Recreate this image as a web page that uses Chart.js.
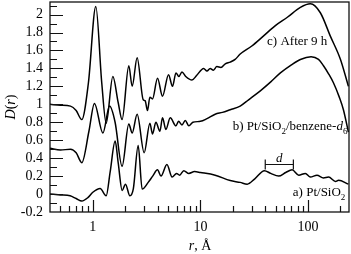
<!DOCTYPE html>
<html>
<head>
<meta charset="utf-8">
<script src="https://cdn.jsdelivr.net/npm/chart.js@4.4.1/dist/chart.umd.min.js"></script>
<style>
  html, body { margin:0; padding:0; background:#fff; }
</style>
</head>
<body>
<canvas id="chart1" width="351" height="254"></canvas>
<script>
// r (Angstrom) and D(r), one pair of arrays per curve
// c) After 9 h
var rC = [0.40,0.50,0.62,0.70,0.79,0.91,1.066,1.21,1.33,1.535,1.72,1.87,2.16,2.32,2.58,2.94,3.06,3.22,3.39,3.585,3.99,4.44,5.05,5.50,5.92,6.3,6.73,7.3,8.34,9.2,10.7,11.5,12.3,13.2,14.2,15.5,17,18.9,21,23.4,30,38.4,50,64.2,84.8,105,130,161,200,237]
var dC = [1.00,0.99,0.98,0.93,0.83,1.24,2.09,1.24,0.79,1.31,1.02,0.83,1.43,1.20,1.52,1.05,1.04,0.93,1.08,1.06,1.29,1.09,1.33,1.20,1.35,1.31,1.36,1.31,1.27,1.32,1.40,1.37,1.40,1.38,1.42,1.41,1.45,1.47,1.50,1.56,1.65,1.76,1.88,1.97,2.08,2.12,2.02,1.76,1.50,1.20]

// b) Pt/SiO2/benzene-d6
var rB = [0.40,0.50,0.62,0.70,0.79,0.92,1.035,1.24,1.43,1.61,1.87,2.16,2.32,2.58,3.0,3.39,3.585,3.855,4.2,4.44,4.77,5.24,5.92,6.26,6.73,7.22,7.8,8.5,10,11.5,13.7,16,18.9,23.4,28,36,45,55.3,70,84.8,106.6,125,139,155,172,195,213,237]
var dB = [0.51,0.49,0.50,0.46,0.35,0.70,1.01,0.68,0.98,0.80,0.31,0.78,0.68,0.89,0.46,0.79,0.67,0.80,0.70,0.85,0.72,0.85,0.76,0.81,0.77,0.82,0.76,0.80,0.81,0.84,0.89,0.91,0.94,0.98,1.05,1.15,1.25,1.35,1.44,1.50,1.53,1.50,1.43,1.34,1.24,1.08,0.94,0.69]

// a) Pt/SiO2
var rA = [0.40,0.50,0.615,0.70,0.79,0.90,1.0,1.169,1.33,1.45,1.612,1.72,1.874,2.01,2.21,2.38,2.639,2.874,3.269,3.6,3.99,4.3,4.88,5.45,6.0,6.4,7.0,7.8,8.8,10,13.7,18.9,23.4,27.2,32,39.3,45,53.3,62,71,81.9,94.4,105,121,139,155,180,192,237]
var dA = [0.00,-0.01,-0.02,-0.05,-0.078,-0.04,0.02,0.063,-0.02,0.25,0.59,0.35,0.04,0.11,-0.02,0.06,0.54,0.055,0.13,0.20,0.27,0.20,0.33,0.19,0.23,0.21,0.26,0.23,0.25,0.24,0.21,0.15,0.13,0.11,0.17,0.26,0.23,0.20,0.24,0.27,0.21,0.23,0.19,0.21,0.18,0.19,0.14,0.155,0.11]

// axes
var xMin = 0.4, xMax = 240
var yMin = -0.2, yMax = 2.14
var xTickLabels = [1, 10, 100]
var yTickLabels = [-0.2, 0, 0.2, 0.4, 0.6, 0.8, 1, 1.2, 1.4, 1.6, 1.8, 2]

// spacing marker "d" on curve a
var dMarkFrom = 40, dMarkTo = 73, dMarkY = 0.333

function pts(xs, ys) {
  return xs.map(function(x, i){ return {x: x, y: ys[i]} })
}

var serif = '"Liberation Serif", "DejaVu Serif", serif'

function richText(ctx, parts, x, y, align, size) {
  function fontOf(p) {
    if (p[1] === 'sub') return Math.round(size * 0.7) + 'px ' + serif
    if (p[1] === 'i') return 'italic ' + size + 'px ' + serif
    return size + 'px ' + serif
  }
  var w = 0
  parts.forEach(function(p){ ctx.font = fontOf(p); w += ctx.measureText(p[0]).width })
  var cx = align === 'right' ? x - w : (align === 'center' ? x - w / 2 : x)
  ctx.textAlign = 'left'
  ctx.textBaseline = 'alphabetic'
  parts.forEach(function(p){
    ctx.font = fontOf(p)
    ctx.fillText(p[0], cx, p[1] === 'sub' ? y + 4 : y)
    cx += ctx.measureText(p[0]).width
  })
}

var decor = {
  id: 'decor',
  afterDraw: function(chart) {
    var ctx = chart.ctx, a = chart.chartArea
    var xs = chart.scales.x, ys = chart.scales.y
    ctx.save()
    ctx.strokeStyle = '#111'
    ctx.fillStyle = '#000'
    ctx.lineWidth = 1.3
    ctx.strokeRect(a.left, a.top, a.right - a.left, a.bottom - a.top)

    // inward ticks, log x
    ctx.lineWidth = 1.2
    ctx.beginPath()
    ;[0.1, 1, 10, 100].forEach(function(base){
      for (var m = 1; m <= 9; m++) {
        var v = m * base
        if (v <= xMin || v >= xMax) continue
        var px = Math.round(xs.getPixelForValue(v)) + 0.5
        ctx.moveTo(px, a.bottom)
        ctx.lineTo(px, a.bottom - (m === 1 ? 12 : 6))
      }
    })
    // inward ticks, y (labelled every 0.2, minor every 0.1)
    yTickLabels.forEach(function(v){
      var py = Math.round(ys.getPixelForValue(v)) + 0.5
      if (v > yMin) { ctx.moveTo(a.left, py); ctx.lineTo(a.left + 13, py) }
      var m = v + 0.1
      if (m < yMax) {
        py = Math.round(ys.getPixelForValue(m)) + 0.5
        ctx.moveTo(a.left, py); ctx.lineTo(a.left + 7, py)
      }
    })
    ctx.stroke()

    // d bracket
    var x1 = xs.getPixelForValue(dMarkFrom), x2 = xs.getPixelForValue(dMarkTo)
    var yb = Math.round(ys.getPixelForValue(dMarkY)) + 0.5
    ctx.beginPath()
    ctx.moveTo(x1, yb); ctx.lineTo(x2, yb)
    ctx.moveTo(x1, yb - 5); ctx.lineTo(x1, yb + 5)
    ctx.moveTo(x2, yb - 5); ctx.lineTo(x2, yb + 5)
    ctx.stroke()
    richText(ctx, [['d', 'i']], (x1 + x2) / 2, yb - 3, 'center', 13)

    // curve labels
    richText(ctx, [['c) After 9 h', '']], xs.getPixelForValue(151), ys.getPixelForValue(1.656), 'right', 13)
    richText(ctx, [['b) Pt/SiO', ''], ['2', 'sub'], ['/benzene-', ''], ['d', 'i'], ['6', 'sub']],
      xs.getPixelForValue(232), ys.getPixelForValue(0.711), 'right', 13)
    richText(ctx, [['a) Pt/SiO', ''], ['2', 'sub']], xs.getPixelForValue(222), ys.getPixelForValue(-0.022), 'right', 13)

    // axis titles
    richText(ctx, [['r', 'i'], [', \u00c5', '']], 200, 250, 'center', 14)
    ctx.translate(10, 107)
    ctx.rotate(-Math.PI / 2)
    richText(ctx, [['D', 'i'], ['(', ''], ['r', 'i'], [')', '']], 0, 5, 'center', 14)
    ctx.restore()
  }
}

var lineStyle = {
  borderColor: '#000',
  borderWidth: 1.5,
  pointRadius: 0,
  fill: false,
  cubicInterpolationMode: 'monotone'
}

Chart.defaults.font.family = serif
Chart.defaults.font.size = 14
Chart.defaults.color = '#000'

function noPad(s) {
  s.paddingTop = 0; s.paddingBottom = 0; s.paddingLeft = 0; s.paddingRight = 0
}

new Chart(document.getElementById('chart1').getContext('2d'), {
  type: 'line',
  data: {
    datasets: [
      Object.assign({ label: 'c) After 9 h', data: pts(rC, dC) }, lineStyle),
      Object.assign({ label: 'b) Pt/SiO2/benzene-d6', data: pts(rB, dB) }, lineStyle),
      Object.assign({ label: 'a) Pt/SiO2', data: pts(rA, dA) }, lineStyle)
    ]
  },
  options: {
    responsive: false,
    animation: false,
    devicePixelRatio: 1,
    layout: { padding: { top: 2, right: 2, left: 0, bottom: 0 } },
    plugins: { legend: { display: false }, tooltip: { enabled: false } },
    scales: {
      x: {
        type: 'logarithmic',
        min: xMin,
        max: xMax,
        grid: { display: false, drawTicks: false },
        border: { display: false },
        afterBuildTicks: function(s){ s.ticks = xTickLabels.map(function(v){ return {value: v} }) },
        afterFit: function(s){ s.height = 42; noPad(s) },
        ticks: { autoSkip: false, maxRotation: 0, padding: 7, callback: function(v){ return String(v) } }
      },
      y: {
        min: yMin,
        max: yMax,
        grid: { display: false, drawTicks: false },
        border: { display: false },
        afterBuildTicks: function(s){ s.ticks = yTickLabels.map(function(v){ return {value: v} }) },
        afterFit: function(s){ s.width = 50; noPad(s) },
        ticks: { autoSkip: false, padding: 7, callback: function(v){ return String(v) } }
      }
    }
  },
  plugins: [decor]
})
</script>
</body>
</html>
